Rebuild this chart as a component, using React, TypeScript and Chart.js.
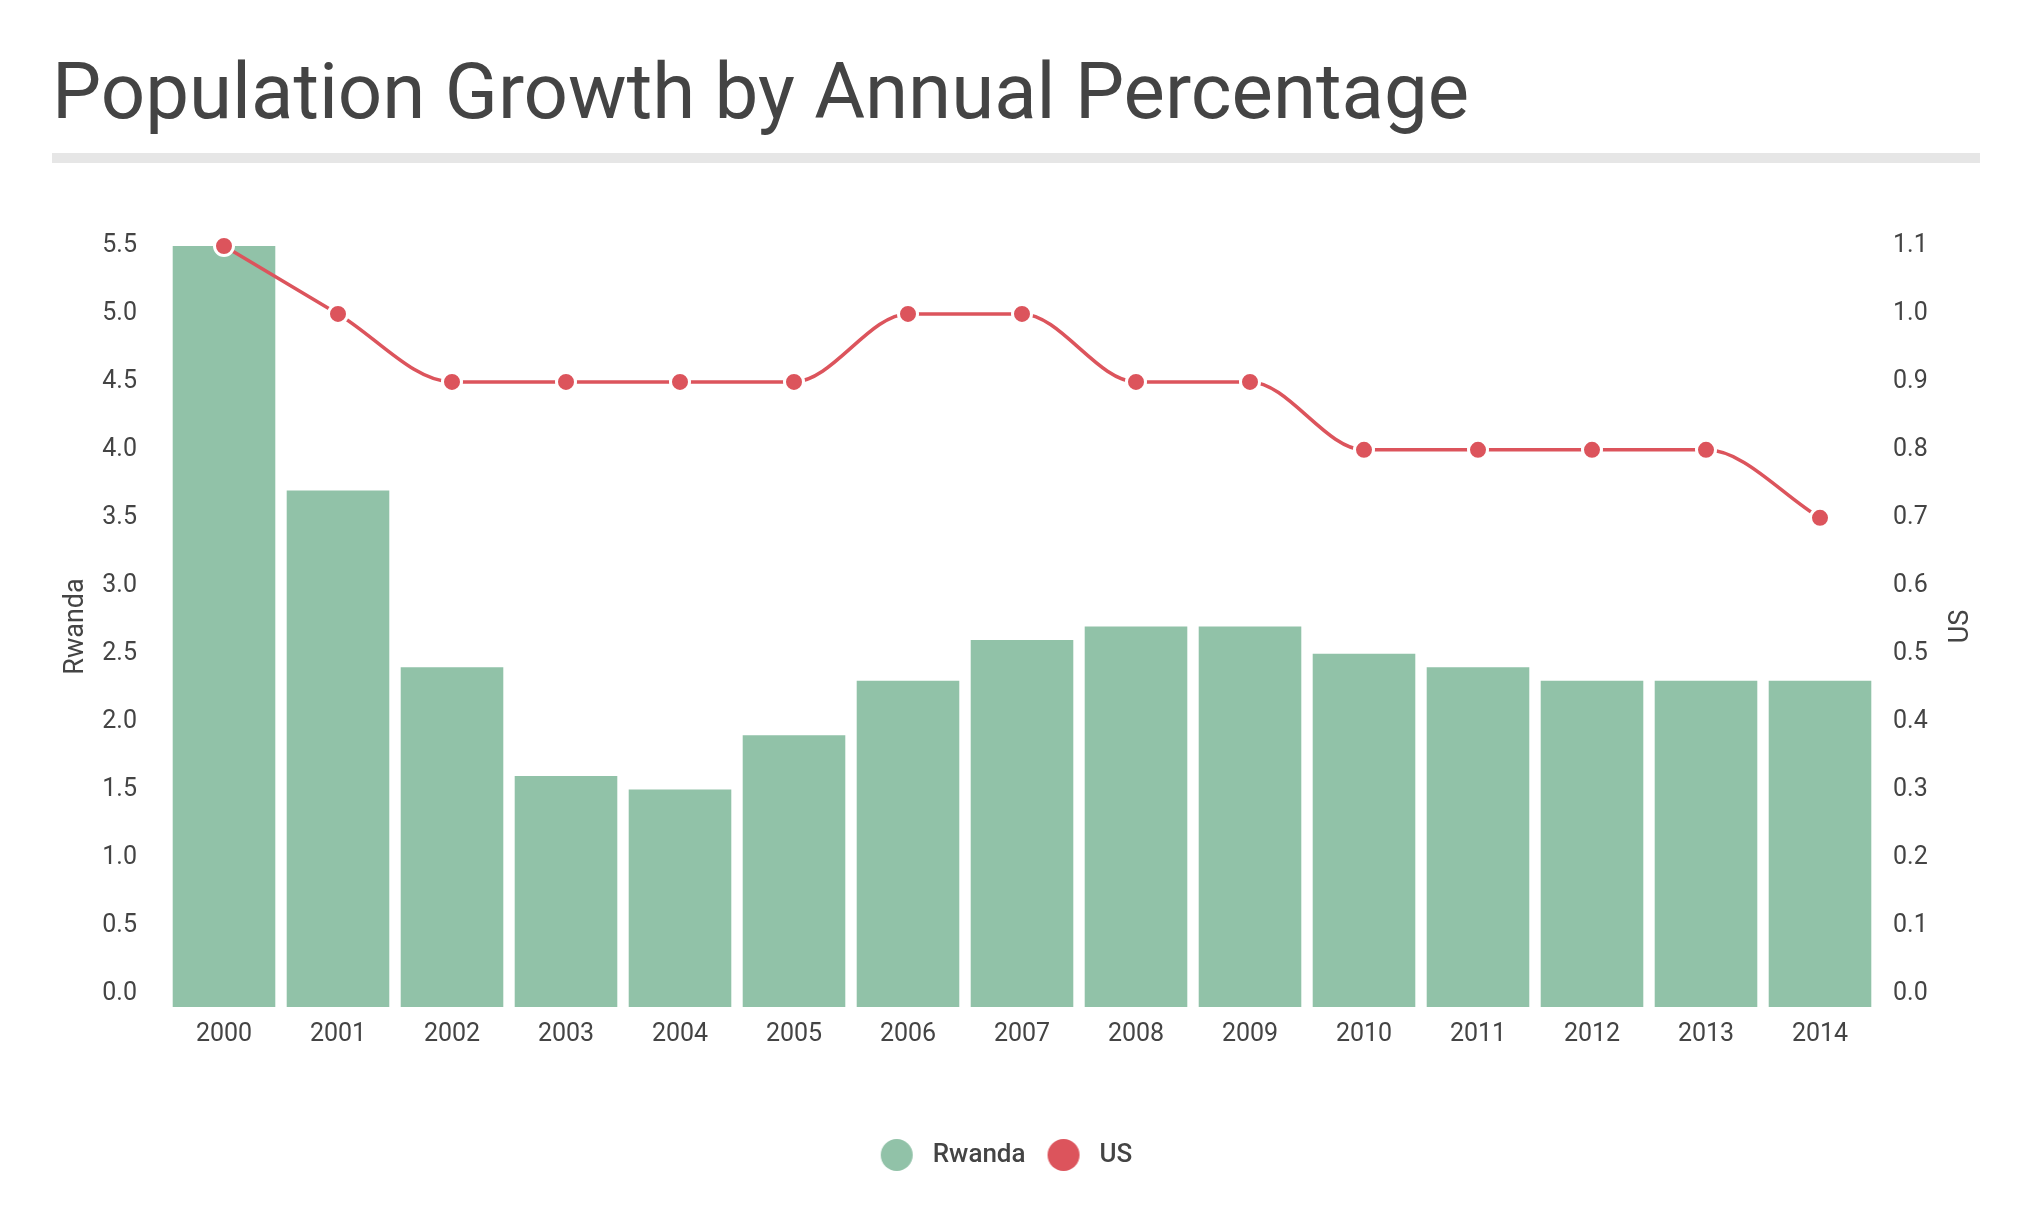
import React, { useEffect, useRef } from "react";
import { Chart, registerables } from "chart.js";

Chart.register(...registerables);

const TITLE = "Population Growth by Annual Percentage";
const YEARS = ["2000", "2001", "2002", "2003", "2004", "2005", "2006", "2007", "2008", "2009", "2010", "2011", "2012", "2013", "2014"];
const RWANDA = [5.5, 3.7, 2.4, 1.6, 1.5, 1.9, 2.3, 2.6, 2.7, 2.7, 2.5, 2.4, 2.3, 2.3, 2.3];
const US = [1.1, 1.0, 0.9, 0.9, 0.9, 0.9, 1.0, 1.0, 0.9, 0.9, 0.8, 0.8, 0.8, 0.8, 0.7];
const RWANDA_TICKS = [0, 0.5, 1.0, 1.5, 2.0, 2.5, 3.0, 3.5, 4.0, 4.5, 5.0, 5.5];
const US_TICKS = [0, 0.1, 0.2, 0.3, 0.4, 0.5, 0.6, 0.7, 0.8, 0.9, 1.0, 1.1];

const GREEN = "#91c2a8";
const RED = "#dc545c";
const TEXT = "#444444";
const FONT = "Roboto";

const W = 2017;
const H = 1209;

function makeDot(color: string): HTMLCanvasElement {
  const c = document.createElement("canvas");
  c.width = 64;
  c.height = 34;
  const g = c.getContext("2d")!;
  g.fillStyle = color;
  g.beginPath();
  g.arc(22, 17, 16, 0, Math.PI * 2);
  g.fill();
  return c;
}

const rightTitlePlugin = {
  id: "rightTitle",
  afterLayout(chart: any) {
    if (chart.legend) {
      chart.legend.left -= 9;
      chart.legend.right -= 9;
    }
  },
  afterDraw(chart: any) {
    const s = chart.scales.y1;
    const area = chart.chartArea;
    const ctx = chart.ctx;
    ctx.save();
    ctx.translate(s.right - 44, (area.top + area.bottom) / 2);
    ctx.rotate(-Math.PI / 2);
    ctx.fillStyle = TEXT;
    ctx.font = `400 27px ${FONT}`;
    ctx.textAlign = "center";
    ctx.textBaseline = "middle";
    ctx.fillText("US", 0, 0);
    ctx.restore();
  },
};

export default function App() {
  const ref = useRef<HTMLCanvasElement | null>(null);

  useEffect(() => {
    if (!ref.current) return;
    const dots = [makeDot(GREEN), makeDot(RED)];
    const chart = new Chart(ref.current, {
      type: "bar",
      data: {
        labels: YEARS,
        datasets: [
          {
            type: "bar",
            label: "Rwanda",
            data: RWANDA,
            backgroundColor: GREEN,
            yAxisID: "y",
            base: -0.1,
            barPercentage: 0.9,
            categoryPercentage: 1.0,
            order: 1,
          } as any,
          {
            type: "line",
            label: "US",
            data: US,
            yAxisID: "y1",
            borderColor: RED,
            backgroundColor: RED,
            borderWidth: 3.5,
            pointRadius: 9.5,
            pointBorderWidth: 3,
            pointBorderColor: "#ffffff",
            pointBackgroundColor: RED,
            cubicInterpolationMode: "monotone",
            clip: false,
            order: 0,
          } as any,
        ],
      },
      options: {
        animation: false,
        responsive: true,
        maintainAspectRatio: false,
        layout: { padding: { top: 238, left: 52, right: 20, bottom: 39 } },
        font: { family: FONT },
        plugins: {
          tooltip: { enabled: false },
          legend: {
            position: "bottom",
            fullSize: false,
            labels: {
              usePointStyle: true,
              padding: 35,
              color: TEXT,
              font: { family: FONT, size: 26, weight: "500" },
              generateLabels: (ch: any) =>
                ch.data.datasets.map((ds: any, i: number) => ({
                  text: ds.label,
                  fillStyle: ds.backgroundColor,
                  strokeStyle: "transparent",
                  lineWidth: 0,
                  pointStyle: dots[i],
                  hidden: !ch.isDatasetVisible(i),
                  datasetIndex: i,
                  fontColor: TEXT,
                })),
            },
          },
        },
        scales: {
          x: {
            offset: true,
            grid: { display: false, drawTicks: false },
            border: { display: false },
            ticks: { padding: 13, color: TEXT, font: { family: FONT, size: 25 } },
            afterFit: (s: any) => {
              s.height = 100;
            },
          },
          y: {
            position: "left",
            min: -0.1,
            max: 5.5,
            grid: { display: false, drawTicks: false },
            border: { display: false },
            ticks: {
              padding: 30,
              color: TEXT,
              font: { family: FONT, size: 25 },
              callback: (v: any) => Number(v).toFixed(1),
            },
            afterBuildTicks: (s: any) => {
              s.ticks = RWANDA_TICKS.map((v) => ({ value: v }));
            },
            afterFit: (s: any) => {
              s.width = 107;
            },
            title: {
              display: true,
              text: "Rwanda",
              color: TEXT,
              padding: 0,
              font: { family: FONT, size: 27 },
            },
          },
          y1: {
            position: "right",
            min: -0.02,
            max: 1.1,
            grid: { display: false, drawTicks: false },
            border: { display: false },
            ticks: {
              padding: 16,
              color: TEXT,
              font: { family: FONT, size: 25 },
              callback: (v: any) => Number(v).toFixed(1),
            },
            afterBuildTicks: (s: any) => {
              s.ticks = US_TICKS.map((v) => ({ value: v }));
            },
            afterFit: (s: any) => {
              s.width = 128;
            },
          },
        },
      } as any,
      plugins: [rightTitlePlugin],
    });
    return () => chart.destroy();
  }, []);

  return (
    <div style={{ position: "relative", width: W, height: H }}>
      <div style={{ position: "absolute", left: 0, top: 0, width: W, height: H }}>
        <canvas ref={ref} />
      </div>
      <div
        style={{
          position: "absolute",
          left: 44,
          top: 45,
          font: `400 78px ${FONT}`,
          lineHeight: "78px",
          color: TEXT,
          whiteSpace: "nowrap",
        }}
      >
        {TITLE}
      </div>
      <div
        style={{
          position: "absolute",
          left: 44,
          top: 145,
          width: 1928,
          height: 10,
          background: "#e6e6e6",
        }}
      />
    </div>
  );
}
